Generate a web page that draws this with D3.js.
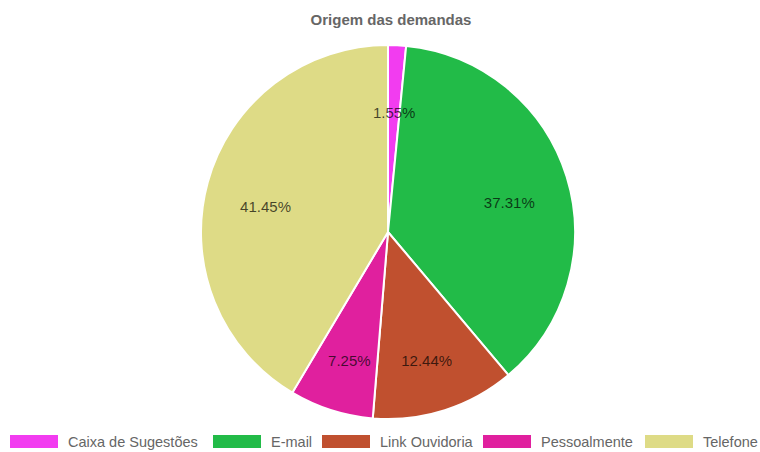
<!DOCTYPE html>
<html>
<head>
<meta charset="utf-8">
<script src="https://cdn.jsdelivr.net/npm/d3@7"></script>
<style>
  body { margin: 0; background: #fff; }
  svg { display: block; font-family: "Liberation Sans", Arial, sans-serif; }
</style>
</head>
<body>
<svg id="chart" width="760" height="452"></svg>
<script>
// dados do gráfico
const categories = ['Caixa de Sugestões', 'E-mail', 'Link Ouvidoria', 'Pessoalmente', 'Telefone'];
const values     = [1.55, 37.31, 12.44, 7.25, 41.45];
const colors     = ['#f23cf0', '#22bb48', '#c0502f', '#e0209e', '#dedb86'];

const svg = d3.select('#chart');
const cx = 388, cy = 232, R = 187;

svg.append('text')
  .attr('x', 391).attr('y', 25)
  .attr('text-anchor', 'middle')
  .attr('font-size', 15).attr('font-weight', 'bold')
  .attr('fill', '#666')
  .text('Origem das demandas');

const data = categories.map((c, i) => ({ label: c, value: values[i], color: colors[i] }));

const pie = d3.pie().value(d => d.value).sort(null);
const arc = d3.arc().innerRadius(0).outerRadius(R);
const labelArc = d3.arc().innerRadius(127).outerRadius(127);

const g = svg.append('g').attr('transform', `translate(${cx},${cy})`);
const arcs = pie(data);

g.selectAll('path')
  .data(arcs)
  .join('path')
  .attr('d', arc)
  .attr('fill', d => d.data.color)
  .attr('stroke', '#fff')
  .attr('stroke-width', 2);

// rótulos um pouco abaixo do centro, como no original
g.selectAll('text.lbl')
  .data(arcs)
  .join('text')
  .attr('class', 'lbl')
  .attr('transform', d => {
    const [x, y] = labelArc.centroid(d);
    return `translate(${x},${y + 8})`;
  })
  .attr('text-anchor', 'middle')
  .attr('dy', '0.35em')
  .attr('font-size', 15)
  .attr('fill', '#000').attr('fill-opacity', 0.7)
  .text(d => d.data.value.toFixed(2) + '%');

// legenda
const legX = [10, 213, 322, 483, 645];
const leg = svg.append('g');
data.forEach((d, i) => {
  leg.append('rect')
    .attr('x', legX[i]).attr('y', 435)
    .attr('width', 48).attr('height', 13)
    .attr('fill', d.color);
  leg.append('text')
    .attr('x', legX[i] + 58).attr('y', 447)
    .attr('font-size', 14.5).attr('fill', '#666')
    .text(d.label);
});
</script>
</body>
</html>
